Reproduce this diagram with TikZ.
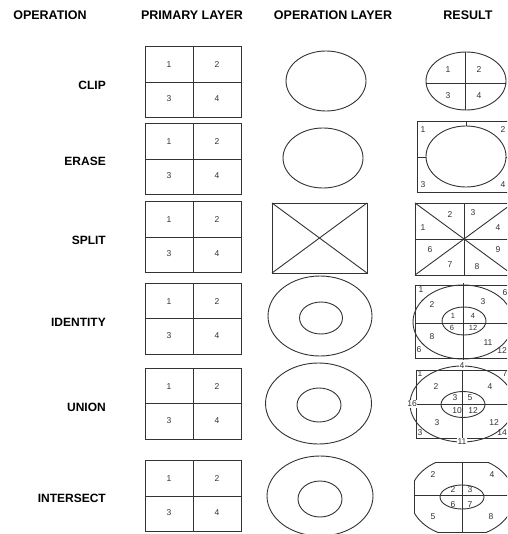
\documentclass[tikz,border=0pt]{standalone}
\usepackage{fontspec}
\setmainfont{Liberation Sans}
\newcommand\primbox[3]{%
  \draw[ln] ({#2-48},{#3-35.5}) rectangle ({#2+48},{#3+35.5});
  \draw[ln] ({#2},{#3-35.5}) -- ({#2},{#3+35.5});
  \draw[ln] ({#2-48},{#3}) -- ({#2+48},{#3});
  \node[num] (#1n1) at ({#2-24},{#3-17}) {1};
  \node[num] (#1n2) at ({#2+24},{#3-17}) {2};
  \node[num] (#1n3) at ({#2-24},{#3+17}) {3};
  \node[num] (#1n4) at ({#2+24},{#3+17}) {4};
}
\begin{document}
\begin{tikzpicture}[x=1pt,y=-1pt,
  ln/.style={draw=black!80,line width=0.9pt},
  hdr/.style={font=\bfseries\fontsize{12.5}{14}\selectfont,anchor=base,inner sep=0pt},
  oplab/.style={font=\bfseries\fontsize{12}{13}\selectfont,anchor=east,inner sep=0pt},
  num/.style={font=\fontsize{8.5}{9}\selectfont,text=black!80,inner sep=0.6pt},
  wnum/.style={num,fill=white}]
\useasboundingbox (0,0) rectangle (507,534);
\clip (0,0) rectangle (507,534);
% headers
\node[hdr] (h1) at (50,20) {OPERATION};
\node[hdr] (h2) at (192,20) {PRIMARY LAYER};
\node[hdr] (h3) at (333,20) {OPERATION LAYER};
\node[hdr] (h4) at (468,20) {RESULT};
% operation names
\node[oplab] (o1) at (106,85) {CLIP};
\node[oplab] (o2) at (106,161) {ERASE};
\node[oplab] (o3) at (106,240) {SPLIT};
\node[oplab] (o4) at (106,322) {IDENTITY};
\node[oplab] (o5) at (106,407) {UNION};
\node[oplab] (o6) at (106,498) {INTERSECT};
% primary layer
\primbox{pa}{193}{82}
\primbox{pb}{193}{159}
\primbox{pc}{193}{237}
\primbox{pd}{193}{318.5}
\primbox{pe}{193}{403.5}
\primbox{pf}{193}{496}
% operation layer
\draw[ln] (326,81) ellipse [x radius=40,y radius=30];
\draw[ln] (323,158) ellipse [x radius=40,y radius=30];
\draw[ln] (272,203) rectangle (367,273);
\draw[ln] (272,203) -- (367,273);
\draw[ln] (272,273) -- (367,203);
\draw[ln] (320,316) ellipse [x radius=52,y radius=40];
\draw[ln] (321,318) ellipse [x radius=21.5,y radius=16];
\draw[ln] (318.5,403.5) ellipse [x radius=53,y radius=40.5];
\draw[ln] (319,405) ellipse [x radius=22,y radius=17];
\draw[ln] (320,496) ellipse [x radius=53,y radius=40];
\draw[ln] (320,499) ellipse [x radius=22,y radius=18];
% result: clip
\draw[ln] (466,81) ellipse [x radius=40,y radius=29];
\begin{scope}
\clip (466,81) ellipse [x radius=40,y radius=29];
\draw[ln] (465,50) -- (465,112);
\draw[ln] (424,83) -- (508,83);
\end{scope}
\node[num] (ra1) at (448,70) {1};
\node[num] (ra2) at (479,70) {2};
\node[num] (ra3) at (448,96) {3};
\node[num] (ra4) at (479,96) {4};
% result: erase
\draw[ln] (417,121) rectangle (513,192);
\draw[ln] (466,156.5) ellipse [x radius=40,y radius=30.5];
\draw[ln] (466,121) -- (466,126);
\draw[ln] (417,157) -- (426,157);
\draw[ln] (506,157) -- (513,157);
\node[num] (rb1) at (423,130) {1};
\node[num] (rb2) at (503,130) {2};
\node[num] (rb3) at (423,185) {3};
\node[num] (rb4) at (503,185) {4};
% result: split
\draw[ln] (415,203) rectangle (513,275);
\draw[ln] (415,203) -- (513,275);
\draw[ln] (415,275) -- (513,203);
\draw[ln] (464,203) -- (464,275);
\draw[ln] (415,239) -- (513,239);
\node[num] (rc1) at (423,228) {1};
\node[num] (rc2) at (450,215) {2};
\node[num] (rc3) at (473,213) {3};
\node[num] (rc4) at (498,228) {4};
\node[num] (rc6) at (430,250) {6};
\node[num] (rc7) at (450,265) {7};
\node[num] (rc8) at (477,267) {8};
\node[num] (rc9) at (498,250) {9};
% result: identity
\draw[ln] (415,285) rectangle (511,358);
\draw[ln] (463,322) ellipse [x radius=50,y radius=37];
\draw[ln] (463,283) -- (463,360);
\draw[ln] (415,323) -- (511,323);
\draw[ln] (464,321) ellipse [x radius=22,y radius=14];
\node[num] (rd1) at (421,290) {1};
\node[num] (rd2) at (432,305) {2};
\node[num] (rd3) at (483,302) {3};
\node[num] (rd6) at (505,293) {6};
\node[num,font=\fontsize{7.5}{8}\selectfont] (rdi1) at (453,316) {1};
\node[num,font=\fontsize{7.5}{8}\selectfont] (rdi4) at (473,316) {4};
\node[num,font=\fontsize{7.5}{8}\selectfont] (rdi6) at (452,328) {6};
\node[num,font=\fontsize{7.5}{8}\selectfont] (rdi12) at (473,328) {12};
\node[num] (rd8) at (432,337) {8};
\node[num] (rd11) at (488,343) {11};
\node[num] (rd6b) at (419,350) {6};
\node[num] (rd12) at (502,351) {12};
% result: union
\draw[ln] (416,370) rectangle (512,438);
\draw[ln] (462,404) ellipse [x radius=52,y radius=38];
\draw[ln] (462,366) -- (462,442);
\draw[ln] (410,404) -- (514,404);
\draw[ln] (463,404.5) ellipse [x radius=22,y radius=13];
\node[wnum] (re4t) at (462,366) {4};
\node[num] (re1) at (420,374) {1};
\node[num] (re7) at (505,374) {7};
\node[num] (re2) at (436,387) {2};
\node[num] (re4) at (490,387) {4};
\node[wnum] (re16) at (412,404) {16};
\node[num] (re3i) at (455,398) {3};
\node[num] (re5i) at (470,398) {5};
\node[num] (re10) at (457,411) {10};
\node[num] (re12i) at (473,411) {12};
\node[num] (re3) at (437,423) {3};
\node[num] (re12) at (494,423) {12};
\node[num] (re3b) at (420,433) {3};
\node[num] (re14) at (502,433) {14};
\node[wnum] (re11) at (462,442) {11};
% result: intersect
\begin{scope}
\clip (462,497) ellipse [x radius=52,y radius=40];
\draw[ln] (414,462) rectangle (510,532);
\clip (414,462) rectangle (510,532);
\draw[ln] (462,455) -- (462,540);
\draw[ln] (405,495) -- (520,495);
\end{scope}
\begin{scope}
\clip (414,462) rectangle (510,532);
\draw[ln] (462,497) ellipse [x radius=52,y radius=40];
\end{scope}
\draw[ln] (462,497) ellipse [x radius=22,y radius=12];
\node[num] (rf2) at (433,475) {2};
\node[num] (rf4) at (492,475) {4};
\node[num] (rf2i) at (453,490) {2};
\node[num] (rf3i) at (470,490) {3};
\node[num] (rf6i) at (453,505) {6};
\node[num] (rf7i) at (470,505) {7};
\node[num] (rf5) at (433,517) {5};
\node[num] (rf8) at (491,517) {8};
\end{tikzpicture}
\end{document}
